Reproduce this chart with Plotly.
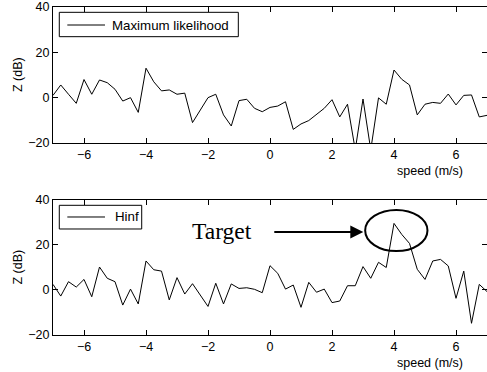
import plotly.graph_objects as go

speed = [-7 + 0.25 * i for i in range(57)]

ml_values = [1, 5.6, 1.5, -2.5, 8, 1.5, 7.8, 6.6, 3.7, -1.5, 0, -6.5, 13, 7, 3, 3.4, 1.5, 2,
             -11, -5.5, 0, 1.5, -7.6, -12.5, -1.3, -0.7, -4.7, -6.2, -4.3, -3.7, -1.8, -14,
             -11.6, -10.1, -7.6, -4.7, -0.9, -8.5, -2.9, -23, -0.6, -23, -0.1, -2.9, 12.2,
             8.1, 5.6, -7.6, -2.9, -2.1, -2.5, 1.6, -3.2, 1, 1.2, -8.5, -7.8]

hinf_values = [2.5, -2.7, 3.7, 1.3, 4.7, -3, 10.2, 5.2, 3.7, -6.7, 0.4, -6.2, 12.9, 9, 8.4,
               -4.4, 5.5, -1.8, 2.8, -2.2, -7.3, 3, -6.2, 2.7, 0.7, 1, 0.3, -1.2, 10.8, 7.4,
               0.4, 2.2, -7.7, 3.4, -1, 0.4, -5.6, -4.9, 1.9, 1.9, 10.4, 5.2, 12.3, 10, 29.6,
               24.7, 20.7, 9.2, 4.7, 12.9, 13.6, 10.7, -3.7, 8.4, -14.8, 2.5, -0.7]

series_names = ["Maximum likelihood", "Hinf"]
x_ticks = [-6, -4, -2, 0, 2, 4, 6]
y_ticks = [-20, 0, 20, 40]

FONT = "Liberation Sans, Arial, sans-serif"
SERIF = "Liberation Serif, Times New Roman, serif"

fig = go.Figure()
fig.add_trace(go.Scatter(x=speed, y=ml_values, mode="lines", name=series_names[0],
                         line=dict(color="black", width=1), xaxis="x", yaxis="y"))
fig.add_trace(go.Scatter(x=speed, y=hinf_values, mode="lines", name=series_names[1],
                         line=dict(color="black", width=1), xaxis="x2", yaxis="y2"))

axis_common = dict(showline=True, linecolor="black", linewidth=1, mirror="ticks",
                   ticks="inside", ticklen=5, tickcolor="black", showgrid=False,
                   zeroline=False, automargin=False,
                   tickfont=dict(family=FONT, size=12.5, color="black"))

fig.update_layout(
    width=487, height=372,
    margin=dict(l=53, r=0, t=7, b=37, autoexpand=False),
    paper_bgcolor="white", plot_bgcolor="white",
    font=dict(family=FONT, size=12.5, color="black"),
    xaxis=dict(domain=[0, 1], range=[-7, 7], tickvals=x_ticks, anchor="y", **axis_common),
    yaxis=dict(domain=[0.5854, 1], range=[-20, 40], tickvals=y_ticks, anchor="x", **axis_common),
    xaxis2=dict(domain=[0, 1], range=[-7, 7], tickvals=x_ticks, anchor="y2", **axis_common),
    yaxis2=dict(domain=[0, 0.4116], range=[-20, 40], tickvals=y_ticks, anchor="x2", **axis_common),
    showlegend=False,
)

# Legend boxes (drawn as boxed keys inside each panel)
legend_specs = [
    # name, box x0, x1, y0, y1, line y, text x
    (series_names[0], 0.0145, 0.427, 0.9095, 0.9838, 0.9451, 0.1313),
    (series_names[1], 0.0145, 0.2044, 0.3232, 0.3954, 0.3598, 0.138),
]
for name, bx0, bx1, by0, by1, ly, tx in legend_specs:
    fig.add_shape(type="rect", xref="paper", yref="paper", x0=bx0, x1=bx1, y0=by0, y1=by1,
                  line=dict(color="black", width=1), fillcolor="white")
    fig.add_shape(type="line", xref="paper", yref="paper", x0=0.033, x1=0.1198, y0=ly, y1=ly,
                  line=dict(color="black", width=1))
    fig.add_annotation(text=name, xref="paper", yref="paper", x=tx, y=ly, xanchor="left",
                       yanchor="middle", showarrow=False, font=dict(family=FONT, size=13.3))

for yc in (0.7927, 0.2058):
    fig.add_annotation(text="Z (dB)", xref="paper", yref="paper", x=-0.0806, y=yc,
                       textangle=-90, showarrow=False, xanchor="center", yanchor="middle",
                       font=dict(family=FONT, size=12.5))

fig.add_annotation(text="speed (m/s)", xref="paper", yref="paper", x=0.95, y=0.5,
                   xanchor="right", yanchor="middle", showarrow=False,
                   font=dict(family=FONT, size=12.5))
fig.add_annotation(text="speed (m/s)", xref="paper", yref="paper", x=0.95, y=-0.085,
                   xanchor="right", yanchor="middle", showarrow=False,
                   font=dict(family=FONT, size=12.5))

fig.add_annotation(text="Target", xref="x2", yref="y2", x=-1.54, y=26.2,
                   showarrow=False, font=dict(family=SERIF, size=23.5, color="black"))
fig.add_annotation(text="", xref="x2", yref="y2", x=3.01, y=25.8,
                   axref="x2", ayref="y2", ax=0.09, ay=25.8,
                   showarrow=True, arrowhead=2, arrowsize=1.3, arrowwidth=2,
                   arrowcolor="black")
fig.add_shape(type="circle", xref="x2", yref="y2", x0=3.07, x1=5.08, y0=17.3, y1=35.6,
              line=dict(color="black", width=2))

fig.write_html("out.html", config={"displayModeBar": False},
               post_script="document.body.style.margin='0';document.body.style.overflow='hidden';")
